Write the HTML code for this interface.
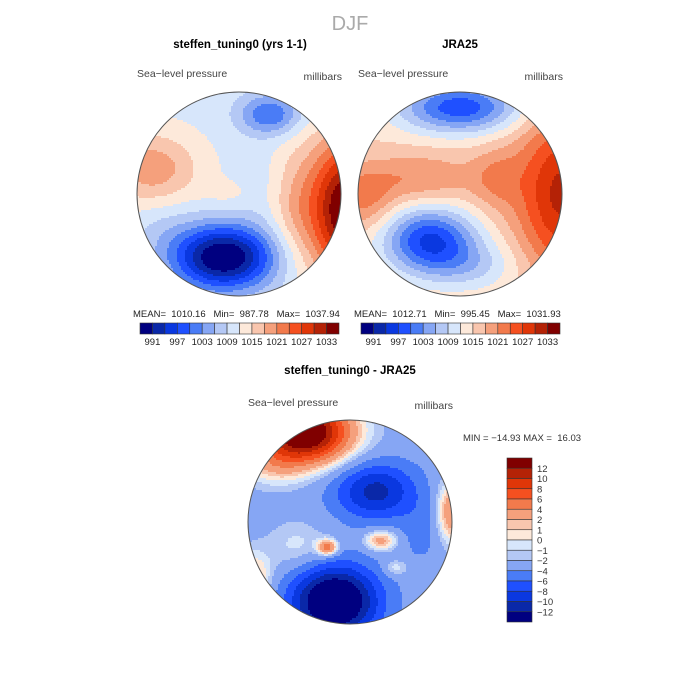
<!DOCTYPE html>
<html><head><meta charset="utf-8">
<style>
html,body{margin:0;padding:0;background:#fff;}
body{width:700px;height:700px;position:relative;overflow:hidden;font-family:"Liberation Sans",sans-serif;}
text{white-space:pre;}
</style></head>
<body>
<svg id="fig" width="700" height="700" viewBox="0 0 700 700" xmlns="http://www.w3.org/2000/svg" style="position:absolute;left:0;top:0">
<defs>
<clipPath id="c1"><circle cx="239" cy="194" r="102"/></clipPath>
<clipPath id="c2"><circle cx="460" cy="194" r="102"/></clipPath>
<clipPath id="c3"><circle cx="350" cy="522" r="102"/></clipPath>
</defs>
<text x="350" y="30" text-anchor="middle" font-family="Liberation Sans, sans-serif" font-size="20" fill="#aaa">DJF</text>
<text x="240" y="48" text-anchor="middle" font-family="Liberation Sans, sans-serif" font-size="11.5" font-weight="bold" fill="#000">steffen_tuning0 (yrs 1-1)</text>
<text x="460" y="48" text-anchor="middle" font-family="Liberation Sans, sans-serif" font-size="11.5" font-weight="bold" fill="#000">JRA25</text>
<text x="137" y="77" font-family="Liberation Sans, sans-serif" font-size="10.5" fill="#444">Sea−level pressure</text>
<text x="342" y="80" text-anchor="end" font-family="Liberation Sans, sans-serif" font-size="10.5" fill="#444">millibars</text>
<text x="358" y="77" font-family="Liberation Sans, sans-serif" font-size="10.5" fill="#444">Sea−level pressure</text>
<text x="563" y="80" text-anchor="end" font-family="Liberation Sans, sans-serif" font-size="10.5" fill="#444">millibars</text>
<text x="133" y="317" xml:space="preserve" font-family="Liberation Sans, sans-serif" font-size="9.5" fill="#222">MEAN=  1010.16   Min=  987.78   Max=  1037.94</text>
<text x="354" y="317" xml:space="preserve" font-family="Liberation Sans, sans-serif" font-size="9.5" fill="#222">MEAN=  1012.71   Min=  995.45   Max=  1031.93</text>
<text x="350" y="374" text-anchor="middle" font-family="Liberation Sans, sans-serif" font-size="11.5" font-weight="bold" fill="#000">steffen_tuning0 - JRA25</text>
<text x="248" y="406" font-family="Liberation Sans, sans-serif" font-size="10.5" fill="#444">Sea−level pressure</text>
<text x="453" y="409" text-anchor="end" font-family="Liberation Sans, sans-serif" font-size="10.5" fill="#444">millibars</text>
<text x="463" y="441" xml:space="preserve" font-family="Liberation Sans, sans-serif" font-size="9.5" fill="#333">MIN = −14.93 MAX =  16.03</text>
<g id="maps"></g>
<g id="bars"></g>
</svg>
<script>
// Colour levels
const absLevels = [991,994,997,1000,1003,1006,1009,1012,1015,1018,1021,1024,1027,1030,1033];
const absTickLabels = ["991","997","1003","1009","1015","1021","1027","1033"];
const diffLevels = [-12,-10,-8,-6,-4,-2,-1,0,1,2,4,6,8,10,12];
const diffTickLabels = ["12","10","8","6","4","2","1","0","−1","−2","−4","−6","−8","−10","−12"];
const palette = ["#000080","#0a28a8","#0a38e0","#1f50ff","#4a7cf6","#86a6f4","#b4c8f5","#d7e6fb","#fde9da","#f9c6ae","#f5a07c","#f27a4c","#f55020","#e03608","#b42206","#800000"];

// Field blobs: [u, v, amplitude, sx, sy] (u,v in circle-radius units)
const modelBase = 1011;
const modelBlobs = [[-0.15,0.62,-24,0.5,0.32],[0.3,-0.78,-11,0.3,0.2],[1.05,0.15,26,0.35,0.7],[-0.85,-0.25,9,0.45,0.35],[-0.1,0.0,2,0.25,0.15],[0.3,-0.1,-1,0.3,0.3],[0.55,0.1,6,0.25,0.6],[-0.75,0.35,-2,0.3,0.3]];
const obsBase = 1015;
const obsBlobs = [[0.0,-0.85,-17,0.6,0.25],[-0.3,0.45,-18,0.45,0.32],[0.1,0.7,-6,0.5,0.25],[1.0,0.0,16,0.45,0.8],[-0.4,-0.15,6,0.55,0.25],[-0.95,0.05,7,0.3,0.3],[0.35,-0.15,5,0.25,0.3]];
const diffBase = -2.8;
const diffBlobs = [[-0.45,-0.88,19,0.45,0.3],[-0.15,0.78,-14,0.42,0.35],[0.25,-0.3,-8,0.4,0.28],[-0.22,0.25,8,0.1,0.08],[0.3,0.18,6,0.16,0.1],[1.0,-0.1,7,0.15,0.3],[-0.95,0.55,5,0.18,0.25],[-0.5,0.25,2.5,0.3,0.25],[-0.75,-0.55,3,0.3,0.2],[0.45,0.45,3,0.12,0.08],[0.7,0.1,-2,0.2,0.3]];

const NS = "http://www.w3.org/2000/svg";
function colorIndex(val, levels){let i=0;while(i<levels.length&&val>=levels[i])i++;return i;}
function field(u,v,base,blobs){let s=base;for(const b of blobs){const du=(u-b[0])/b[3],dv=(v-b[1])/b[4];s+=b[2]*Math.exp(-(du*du+dv*dv));}return s;}
function drawMap(name,cx,cy,r,base,blobs,levels,clip){
  const g=document.createElementNS(NS,"g");
  
  
  g.setAttribute("clip-path","url(#"+clip+")");
  const step=2;
  for(let y=cy-r;y<cy+r;y+=step){
    let runStart=cx-r,runIdx=-1;
    for(let x=cx-r;x<=cx+r;x+=step){
      const idx = x<cx+r ? colorIndex(field((x+1-cx)/r,(y+1-cy)/r,base,blobs),levels) : -2;
      if(idx!==runIdx){
        if(runIdx>=0){const rc=document.createElementNS(NS,"rect");
          rc.setAttribute("x",runStart);rc.setAttribute("y",y);rc.setAttribute("width",x-runStart);rc.setAttribute("height",step+0.3);rc.setAttribute("fill",palette[runIdx]);g.appendChild(rc);}
        runStart=x;runIdx=idx;
      }
    }
  }
  document.getElementById("maps").appendChild(g);
  const c=document.createElementNS(NS,"circle");
  
  
  c.setAttribute("cx",cx);c.setAttribute("cy",cy);c.setAttribute("r",r);c.setAttribute("fill","none");c.setAttribute("stroke","#555");c.setAttribute("stroke-width","1");
  document.getElementById("maps").appendChild(c);
}
drawMap("model-map",239,194,102,modelBase,modelBlobs,absLevels,"c1");
drawMap("obs-map",460,194,102,obsBase,obsBlobs,absLevels,"c2");
drawMap("diff-map",350,522,102,diffBase,diffBlobs,diffLevels,"c3");

function hbar(name,x0,x1,y,labels){
  const bars=document.getElementById("bars");
  const g=document.createElementNS(NS,"g");
  
  
  const w=(x1-x0)/palette.length;
  palette.forEach((col,i)=>{const rc=document.createElementNS(NS,"rect");
    
    
    rc.setAttribute("x",x0+i*w);rc.setAttribute("y",y);rc.setAttribute("width",w);rc.setAttribute("height",11);rc.setAttribute("fill",col);rc.setAttribute("stroke","#333");rc.setAttribute("stroke-width","0.6");g.appendChild(rc);});
  labels.forEach((lab,k)=>{const t=document.createElementNS(NS,"text");
    
    
    t.setAttribute("x",x0+(1+2*k)*w);t.setAttribute("y",y+22);t.setAttribute("text-anchor","middle");t.setAttribute("font-size","9.5");t.setAttribute("font-family","Liberation Sans, sans-serif");t.setAttribute("fill","#222");t.textContent=lab;g.appendChild(t);});
  bars.appendChild(g);
}
hbar("model-colorbar",140,339,323,absTickLabels);
hbar("obs-colorbar",361,560,323,absTickLabels);

(function(){
  const bars=document.getElementById("bars");
  const g=document.createElementNS(NS,"g");
  
  
  const x0=507,y0=458,y1=622,h=(y1-y0)/palette.length;
  palette.slice().reverse().forEach((col,i)=>{const rc=document.createElementNS(NS,"rect");
    
    
    rc.setAttribute("x",x0);rc.setAttribute("y",y0+i*h);rc.setAttribute("width",25);rc.setAttribute("height",h);rc.setAttribute("fill",col);rc.setAttribute("stroke","#333");rc.setAttribute("stroke-width","0.6");g.appendChild(rc);});
  diffTickLabels.forEach((lab,k)=>{const t=document.createElementNS(NS,"text");
    
    
    t.setAttribute("x",x0+30);t.setAttribute("y",y0+(k+1)*h+3.5);t.setAttribute("font-size","9.5");t.setAttribute("font-family","Liberation Sans, sans-serif");t.setAttribute("fill","#333");t.textContent=lab;g.appendChild(t);});
  bars.appendChild(g);
})();
</script>
</body></html>
